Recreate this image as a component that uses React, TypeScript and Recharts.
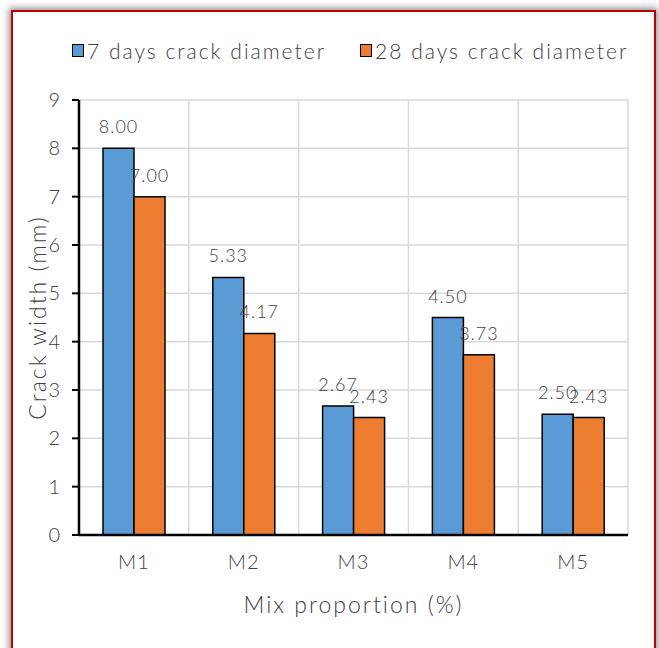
import { BarChart, Bar, XAxis, YAxis, CartesianGrid, LabelList } from 'recharts';

// Crack width per mix, measured at 7 and 28 days
const MIXES = ['M1', 'M2', 'M3', 'M4', 'M5'];
const CRACK_7D = [8.0, 5.33, 2.67, 4.5, 2.5];
const CRACK_28D = [7.0, 4.17, 2.43, 3.73, 2.43];
const Y_TICKS = [0, 1, 2, 3, 4, 5, 6, 7, 8, 9];

const SERIES = [
  { key: 'd7', label: '7 days crack diameter', color: '#5B9BD5' },
  { key: 'd28', label: '28 days crack diameter', color: '#ED7D31' },
];

const FONT = 'Lato, "Open Sans", sans-serif';
const TEXT = '#404040';

const data = MIXES.map((m, i) => ({ mix: m, d7: CRACK_7D[i], d28: CRACK_28D[i] }));

function LegendRow() {
  return (
    <div style={{ display: 'flex', gap: 34, fontFamily: FONT, fontSize: 21, fontWeight: 300, color: TEXT, letterSpacing: 2 }}>
      {SERIES.map((s) => (
        <div key={s.key} style={{ display: 'flex', alignItems: 'center' }}>
          <span style={{ width: 10, height: 11, background: s.color, border: '1.5px solid #000', marginRight: 3 }} />
          <span>{s.label}</span>
        </div>
      ))}
    </div>
  );
}

function YTitle({ viewBox }: any) {
  const x = viewBox.x + 18;
  const y = viewBox.y + viewBox.height / 2;
  return (
    <text x={x} y={y} transform={`rotate(-90, ${x}, ${y})`} textAnchor="middle" dominantBaseline="central"
      fill={TEXT} fontFamily={FONT} fontSize={23} fontWeight={300} letterSpacing={2}>
      Crack width (mm)
    </text>
  );
}

export default function App() {
  return (
    <div style={{ position: 'absolute', left: 0, top: 0, width: 659, height: 648, overflow: 'hidden', background: '#fff' }}>
      <div style={{
        position: 'absolute', left: 11, top: 10, width: 641, height: 660,
        border: '2px solid #C00000', boxShadow: '0 0 7px 2px rgba(0,0,0,0.45)', background: '#fff',
      }} />
      <div style={{ position: 'absolute', left: 0, top: 0 }}>
        <BarChart width={659} height={648} data={data} barGap={0} barSize={31}
          margin={{ top: 100, right: 31, bottom: 33, left: 19 }}>
          <CartesianGrid stroke="#D9D9D9" strokeWidth={1.5}
            verticalCoordinatesGenerator={({ offset }: any) =>
              MIXES.map((_, i) => offset.left + (offset.width * i) / MIXES.length).concat(offset.left + offset.width)} />
          <XAxis dataKey="mix" height={80} tickLine={false} axisLine={{ stroke: '#000', strokeWidth: 2.5 }}
            tick={{ fill: TEXT, fontFamily: FONT, fontSize: 20, fontWeight: 300, letterSpacing: 1 }} tickMargin={14}
            label={{ value: 'Mix proportion (%)', position: 'insideBottom', offset: 2, fill: TEXT, fontFamily: FONT, fontSize: 23, fontWeight: 300, letterSpacing: 2 }} />
          <YAxis width={60} domain={[0, 9]} ticks={Y_TICKS} interval={0}
            axisLine={{ stroke: '#000', strokeWidth: 2.5 }} tickLine={{ stroke: '#000', strokeWidth: 2 }} tickSize={7} tickMargin={12}
            tick={{ fill: TEXT, fontFamily: FONT, fontSize: 20, fontWeight: 300 }}
            label={<YTitle />} />
          {SERIES.map((s) => (
            <Bar key={s.key} dataKey={s.key} fill={s.color} stroke="#000" strokeWidth={1.5} isAnimationActive={false}>
              <LabelList dataKey={s.key} position="top" offset={15} formatter={(v: any) => Number(v).toFixed(2)}
                fill={TEXT} fontFamily={FONT} fontSize={18} fontWeight={300} letterSpacing={1} />
            </Bar>
          ))}
        </BarChart>
      </div>
      <div style={{ position: 'absolute', top: 38, left: 72 }}>
        <LegendRow />
      </div>
    </div>
  );
}
